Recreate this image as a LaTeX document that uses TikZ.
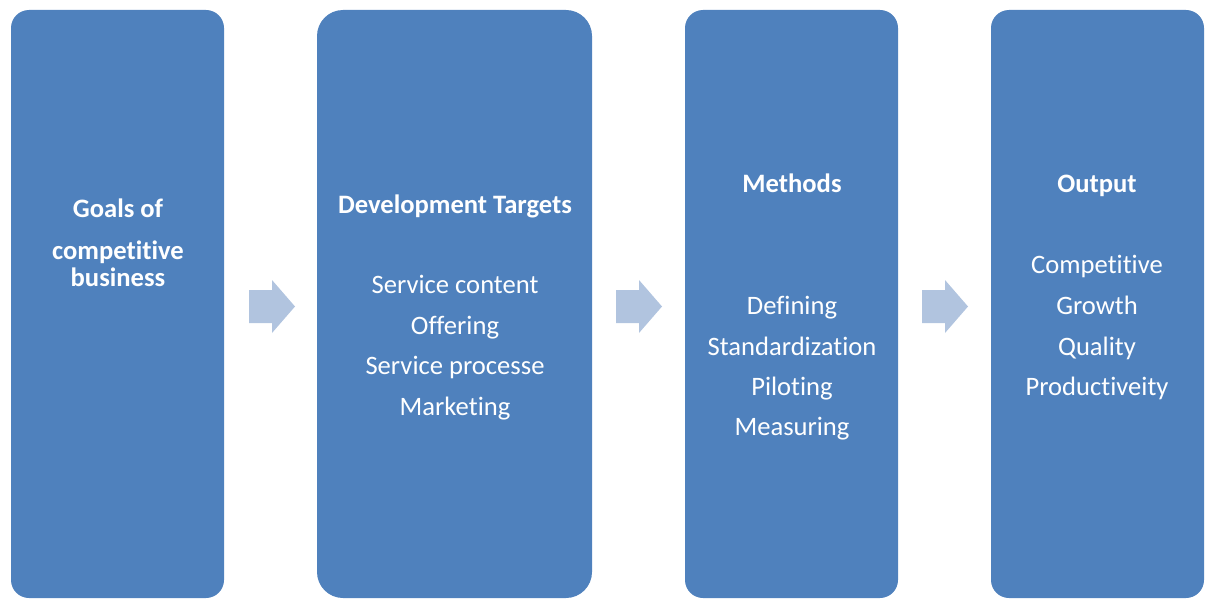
\documentclass[tikz,border=0pt]{standalone}
\usepackage{fontspec}
\setmainfont{Carlito}[Ligatures={NoCommon}]
\begin{document}
\begin{tikzpicture}[x=1pt,y=-1pt,
  box/.style={fill=boxblue,draw=none},
  arr/.style={fill=arrblue,draw=none},
  txt/.style={text=white,anchor=base,inner sep=0pt,font=\fontsize{26.6}{30}\selectfont},
  ttl/.style={txt,font=\fontsize{26.6}{30}\selectfont\bfseries}]
\definecolor{boxblue}{HTML}{4F81BD}
\definecolor{arrblue}{HTML}{B1C4DF}
\useasboundingbox (0,0) rectangle (1208,599);
% boxes
\fill[box,rounded corners=18pt] (11,10) rectangle (224,598);
\fill[box,rounded corners=26pt] (317,10) rectangle (592,598);
\fill[box,rounded corners=18pt] (685,10) rectangle (898,598);
\fill[box,rounded corners=18pt] (991,10) rectangle (1204,598);
% arrows
\foreach \x in {249,616,922}{
  \fill[arr] (\x,290) -- (\x+23,290) -- (\x+23,280) -- (\x+46,306.5) -- (\x+23,333) -- (\x+23,323) -- (\x,323) -- cycle;
}
% box 1
\node[ttl] (g1) at (118,217) {Goals of};
\node[ttl] (g2) at (118,259) {competitive};
\node[ttl] (g3) at (118,286) {business};
% box 2
\node[ttl] (d0) at (455,213) {Development Targets};
\node[txt] (d1) at (455,293) {Service content};
\node[txt] (d2) at (455,334) {Offering};
\node[txt] (d3) at (455,374.5) {Service processe};
\node[txt] (d4) at (455,415) {Marketing};
% box 3
\node[ttl] (m0) at (792,193) {Methods};
\node[txt] (m1) at (792,314) {Defining};
\node[txt] (m2) at (792,355) {Standardization};
\node[txt] (m3) at (792,395.5) {Piloting};
\node[txt] (m4) at (792,435) {Measuring};
% box 4
\node[ttl] (o0) at (1097,193) {Output};
\node[txt] (o1) at (1097,273) {Competitive};
\node[txt] (o2) at (1097,314) {Growth};
\node[txt] (o3) at (1097,355) {Quality};
\node[txt] (o4) at (1097,395.5) {Productiveity};
\end{tikzpicture}
\end{document}
